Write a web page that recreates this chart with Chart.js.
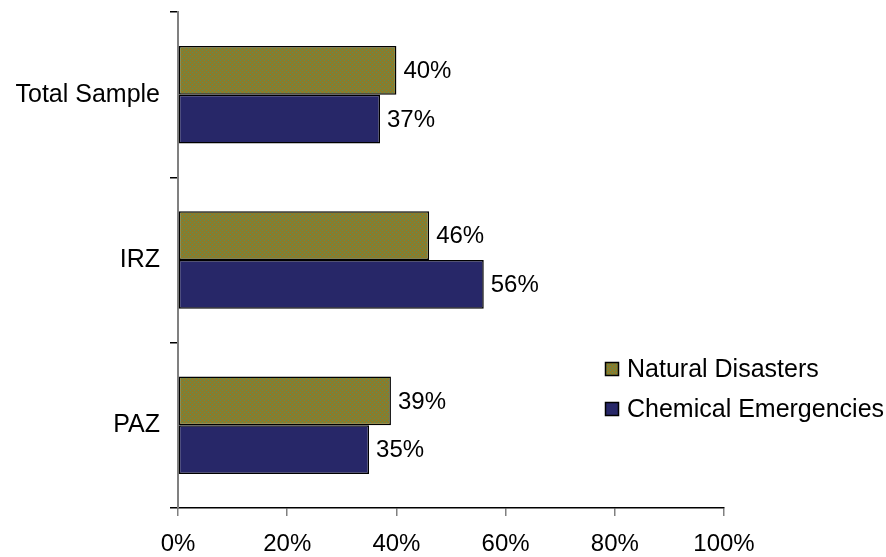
<!DOCTYPE html>
<html><head><meta charset="utf-8">
<script src="https://cdn.jsdelivr.net/npm/chart.js@4"></script>
<style>html,body{margin:0;padding:0;background:#fff}#wrap{width:886px;height:557px}</style>
</head><body><div id="wrap"><canvas id="c" width="886" height="557"></canvas></div>
<script>
const categories = ["Total Sample", "IRZ", "PAZ"];
const naturalDisasters = [40, 46, 39];
const chemicalEmergencies = [37, 56, 35];
const xTicks = [0, 20, 40, 60, 80, 100];
const seriesNames = ["Natural Disasters", "Chemical Emergencies"];

function makePattern() {
  const p = document.createElement('canvas');
  p.width = 4; p.height = 4;
  const g = p.getContext('2d');
  g.fillStyle = '#8a7c2c'; g.fillRect(0,0,4,4);
  g.fillStyle = '#55905a';
  g.fillRect(0,0,1,1); g.fillRect(2,2,1,1);
  return document.getElementById('c').getContext('2d').createPattern(p,'repeat');
}
const greenFill = makePattern();
const blueFill = '#272768';
const FONT = '"Liberation Sans", Arial, sans-serif';

const valueLabels = {
  id: 'valueLabels',
  afterDatasetsDraw(chart) {
    const ctx = chart.ctx;
    ctx.save();
    ctx.font = '24px ' + FONT;
    ctx.fillStyle = '#000';
    ctx.textAlign = 'left';
    ctx.textBaseline = 'middle';
    chart.data.datasets.forEach((ds, i) => {
      chart.getDatasetMeta(i).data.forEach((bar, j) => {
        ctx.fillText(ds.data[j] + '%', bar.x + 7, bar.y + 1);
      });
    });
    ctx.restore();
  }
};

const customLegend = {
  id: 'customLegend',
  afterDraw(chart) {
    const ctx = chart.ctx;
    ctx.save();
    ctx.font = '25px ' + FONT;
    ctx.textBaseline = 'middle';
    const fills = [greenFill, blueFill];
    const ys = [369, 409];
    seriesNames.forEach((name, i) => {
      ctx.fillStyle = fills[i];
      ctx.fillRect(606, ys[i] - 6, 12, 12);
      ctx.strokeStyle = '#000'; ctx.lineWidth = 1.5;
      ctx.strokeRect(605.5, ys[i] - 6.5, 13, 13);
      ctx.fillStyle = '#000';
      ctx.fillText(name, 627, ys[i] + 1);
    });
    ctx.restore();
  }
};

new Chart(document.getElementById('c'), {
  type: 'bar',
  data: {
    labels: categories,
    datasets: [
      { label: seriesNames[0], data: naturalDisasters, backgroundColor: greenFill, borderColor: '#000', borderWidth: 1.5, borderSkipped: false },
      { label: seriesNames[1], data: chemicalEmergencies, backgroundColor: blueFill, borderColor: '#000', borderWidth: 1.5, borderSkipped: false }
    ]
  },
  options: {
    indexAxis: 'y',
    responsive: false,
    animation: false,
    devicePixelRatio: 1,
    categoryPercentage: 0.59,
    barPercentage: 1.0,
    layout: { padding: { top: 12, right: 162, left: 0, bottom: 0 } },
    plugins: { legend: { display: false }, tooltip: { enabled: false } },
    scales: {
      x: {
        min: 0, max: 100,
        afterBuildTicks(scale) { scale.ticks = xTicks.map(v => ({ value: v })); },
        afterFit(scale) { scale.height = 49; scale.paddingLeft = 0; scale.paddingRight = 0; },
        ticks: { callback: v => v + '%', color: '#000', font: { family: FONT, size: 24 }, padding: 14, maxRotation: 0 },
        grid: { drawOnChartArea: false, drawTicks: true, tickLength: 8, color: '#808080', lineWidth: 1.5 },
        border: { color: '#000', width: 1.5 }
      },
      y: {
        afterFit(scale) { scale.width = 178; scale.paddingTop = 0; scale.paddingBottom = 0; },
        ticks: { color: '#000', font: { family: FONT, size: 25 }, padding: 10 },
        grid: { drawOnChartArea: false, drawTicks: true, tickLength: 8, color: '#000', lineWidth: 1.5, offset: true },
        border: { color: '#808080', width: 2 }
      }
    }
  },
  plugins: [valueLabels, customLegend]
});
</script>
</body></html>
